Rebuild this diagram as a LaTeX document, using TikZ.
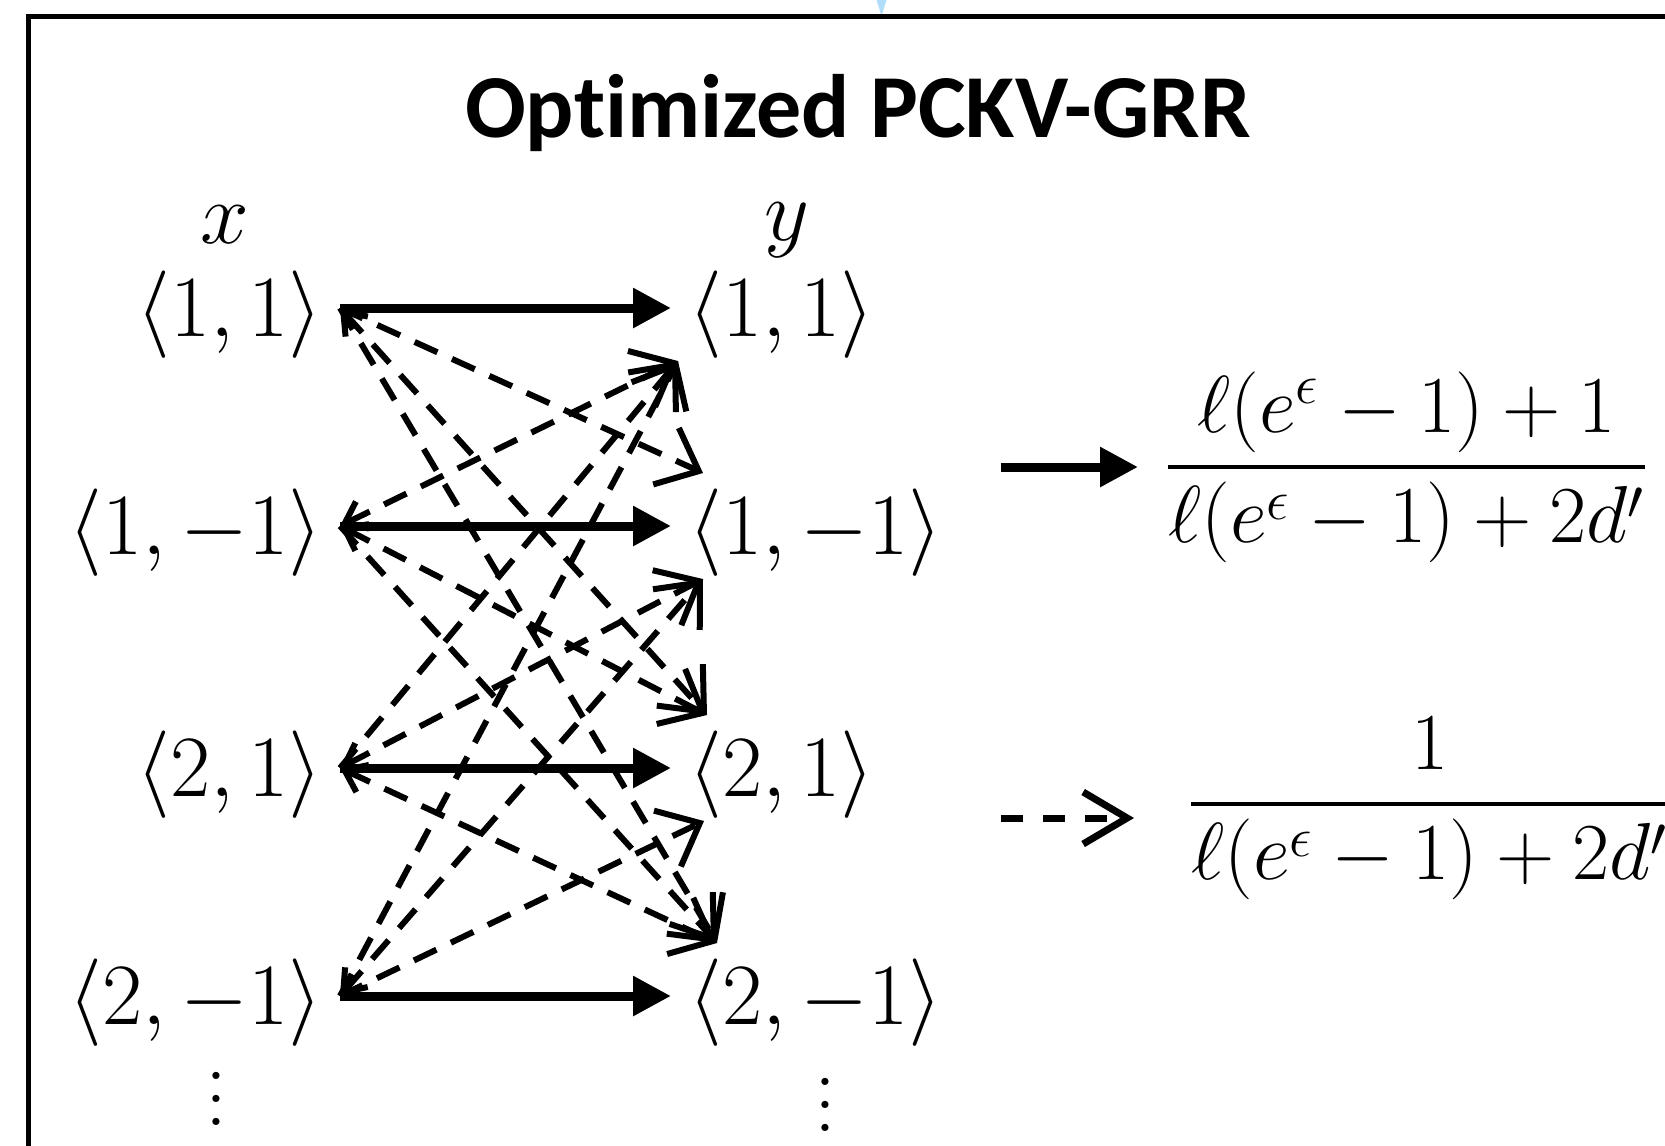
\RequirePackage{fix-cm}
\documentclass[tikz,border=0pt]{standalone}
\usepackage{amsmath}
\usepackage{fontspec}
\newfontfamily\carlito{Carlito}[Ligatures=NoCommon]
\usetikzlibrary{arrows.meta}
\definecolor{tipblue}{RGB}{176, 222, 250}
\newcommand{\tallvdots}{\vbox{\baselineskip=0.23cm\lineskiplimit=-1cm\hbox{.}\hbox{.}\hbox{.}}}
\tikzset{
	pair/.style={
		inner sep=0pt, outer xsep=0.17cm, outer ysep=0.18cm,
		text height=0.63cm, text depth=0.07cm,
		font=\fontsize{24.88}{29}\selectfont
	},
	xpair/.style={pair, anchor=east},
	ypair/.style={pair, anchor=west},
	vdotsnode/.style={inner sep=0pt, font=\fontsize{24.88}{29}\selectfont},
	sarrow/.style={
		-{Triangle[length=0.38cm, width=0.38cm]}, line width=0.09cm
	},
	darrow/.style={
		-{Straight Barb[length=0.36cm, width=0.62cm]},
		dash pattern=on 0.25cm off 0.16cm, line width=0.06cm
	},
	dtail/.style={
		darrow,
		{Straight Barb[length=0.2cm, width=0.3cm]}-{Straight Barb[length=0.36cm, width=0.62cm]}
	},
	legdash/.style={
		-{Straight Barb[length=0.44cm, width=0.52cm]},
		dash pattern=on 0.22cm off 0.2cm, line width=0.07cm
	},
	legfrac/.style={inner sep=0pt, font=\fontsize{23}{28}\selectfont},
	frame/.style={draw=black, line width=0.05cm}
}

\begin{document}
\begin{tikzpicture}
	\useasboundingbox (0,0) rectangle (16.65,-11.45);
	\clip (0,0) rectangle (16.65,-11.45);
	
	%% ═══════════════════════════════
	%%  FRAME + TITLE
	%% ═══════════════════════════════
	\fill[tipblue] (8.75,0.05) -- (8.88,0.05) -- (8.815,-0.16) -- cycle;
	\draw[frame] (0.29,-11.8) -- (0.29,-0.16) -- (16.9,-0.16);
	
	\node[font=\carlito\bfseries\fontsize{25.6}{30}\selectfont,
	anchor=base] (title) at (8.58,-1.37) {Optimized PCKV-GRR};
	
	%% ═══════════════════════════════
	%%  INPUT x  (right edge x=3.23)
	%% ═══════════════════════════════
	\node[font=\fontsize{24.88}{29}\selectfont, anchor=base] (xlab) at (2.25,-2.43) {$x$};
	\node[xpair] (x11) at (3.40,-3.08)  {$\langle 1,1\rangle$};
	\node[xpair] (x1m) at (3.40,-5.26)  {$\langle 1,-1\rangle$};
	\node[xpair] (x21) at (3.40,-7.68)  {$\langle 2,1\rangle$};
	\node[xpair] (x2m) at (3.40,-9.96)  {$\langle 2,-1\rangle$};
	\node[vdotsnode] (xdots) at (2.16,-10.99) {\tallvdots};
	
	%% ═══════════════════════════════
	%%  OUTPUT y  (left edge x=6.88)
	%% ═══════════════════════════════
	\node[font=\fontsize{24.88}{29}\selectfont, anchor=base] (ylab) at (7.87,-2.40) {$y$};
	\node[ypair] (y11) at (6.71,-3.08)  {$\langle 1,1\rangle$};
	\node[ypair] (y1m) at (6.71,-5.26)  {$\langle 1,-1\rangle$};
	\node[ypair] (y21) at (6.71,-7.68)  {$\langle 2,1\rangle$};
	\node[ypair] (y2m) at (6.71,-9.96)  {$\langle 2,-1\rangle$};
	\node[vdotsnode] (ydots) at (8.25,-11.05) {\tallvdots};
	
	%% ═══════════════════════════════
	%%  ARROWS
	%% ═══════════════════════════════
	
	% same pair: solid
	\foreach \s/\t in {x11/y11, x1m/y1m, x21/y21, x2m/y2m}
	\draw[sarrow] (\s) -- (\t);
	
	% other pairs: dashed
	\foreach \s/\t/\dx in {x11/y1m.north west/0.32, x11/y2m.north west/0.46,
		x1m/y2m.north west/0.46, x21/y11.south west/0.07,
		x2m/y11.south west/0.07, x2m/y21.south west/0.33}
	\draw[darrow] (\s.east) -- ([xshift=\dx cm]\t);
	
	\foreach \s/\t/\dx in {x11/y21.north west/0.36, x1m/y11.south west/0.07,
		x1m/y21.north west/0.36, x21/y1m.south west/0.32,
		x21/y2m.north west/0.46, x2m/y1m.south west/0.32}
	\draw[dtail] (\s.east) -- ([xshift=\dx cm]\t);
	
	%% ═══════════════════════════════
	%%  LEGEND
	%% ═══════════════════════════════
	\coordinate (lgsolid) at (10.01,-4.67);
	\coordinate (lgdash)  at (10.01,-8.18);
	
	\node[legfrac, outer xsep=0.26cm, anchor=base west] (fracA) at (11.38,-4.872)
	{$\dfrac{\ell(e^{\epsilon}-1)+1}{\ell(e^{\epsilon}-1)+2d'}$};
	\node[legfrac, outer xsep=0.53cm, anchor=base west] (fracB) at (11.34,-8.242)
	{$\dfrac{1}{\ell(e^{\epsilon}-1)+2d'}$};
	
	\draw[sarrow]  (lgsolid) -- (lgsolid -| fracA.west);
	\draw[legdash] (lgdash)  -- (lgdash -| fracB.west);
\end{tikzpicture}
\end{document}
